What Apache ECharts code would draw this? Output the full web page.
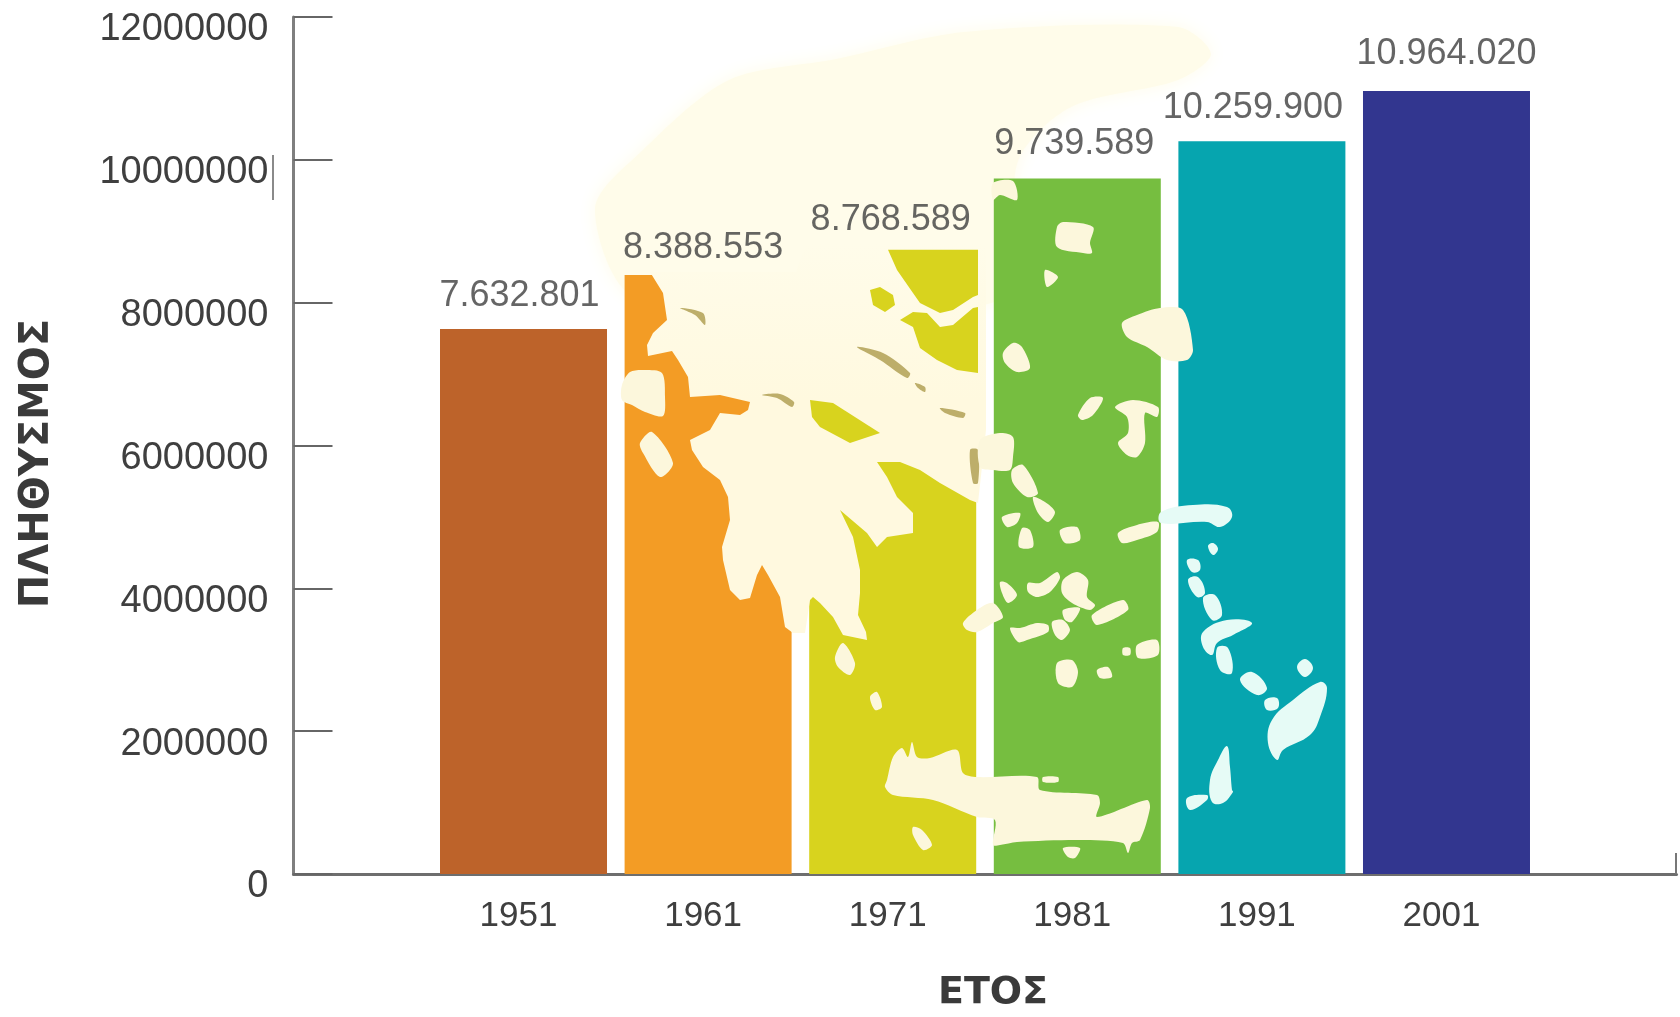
<!DOCTYPE html>
<html>
<head>
<meta charset="utf-8">
<script src="https://cdn.jsdelivr.net/npm/echarts@6/dist/echarts.min.js"></script>
<style>html,body{margin:0;padding:0;background:#fff}#c{width:1680px;height:1017px;filter:blur(0.7px)}</style>
</head>
<body>
<div id="c"></div>
<script>
// ---- chart data ----
const years = [1951, 1961, 1971, 1981, 1991, 2001];
const population = [7632801, 8388553, 8768589, 9739589, 10259900, 10964020];
const valueLabels = ['7.632.801', '8.388.553', '8.768.589', '9.739.589', '10.259.900', '10.964.020'];
const barColors = ['#BD632A', '#F39C25', '#D8D31E', '#76BE40', '#06A5AF', '#32368F'];
const yAxisName = 'ΠΛΗΘΥΣΜΟΣ';
const xAxisName = 'ΕΤΟΣ';

// ---- decorative backdrop: outline of Greece, in page pixels ----
const northLand = [[595,209],[643,150],[729,80],[836,59],[964,32],[1178,27],[1211,54],[1178,80],[1071,107],[1018,161],[1000,300],[640,300]];
const mainland = [[650,272],[796,272],[806,244],[986,244],[986,430],[978,503],[970,500],[940,483],[920,470],[900,462],[877,462],[887,477],[897,497],[913,513],[913,533],[887,537],[877,547],[867,533],[840,510],[853,537],[860,570],[860,593],[858,615],[866,632],[867,640],[843,635],[833,617],[820,603],[813,597],[810,600],[805,633],[793,633],[785,627],[780,597],[768,575],[762,565],[757,575],[750,598],[740,600],[730,590],[723,560],[722,547],[730,520],[728,497],[720,480],[703,467],[692,450],[690,440],[710,430],[720,413],[740,415],[748,410],[750,402],[720,395],[690,397],[688,377],[678,360],[672,351],[648,356],[647,345],[653,333],[667,320],[663,293]];
const seaIn1971 = [
  [[888,249.7],[978,249.7],[978,295],[973,297],[953,310],[940,313],[920,303],[913,293],[897,270]],
  [[870,290],[880,287],[893,295],[895,305],[885,312],[873,305]],
  [[900,320],[913,312],[927,313],[940,327],[953,325],[973,308],[978,307],[978,373],[957,370],[937,360],[920,348],[913,327]],
  [[810,400],[833,403],[880,433],[850,443],[820,427],[812,417]]
];
const inlets = [
  [[680,308],[703,313],[705,325],[695,315]],
  [[762,395],[780,394],[794,402],[792,407],[777,398]],
  [[857,347],[883,353],[910,373],[907,378],[880,360]],
  [[915,383],[925,387],[925,392],[918,388]],
  [[940,408],[965,413],[963,418],[945,413]],
  [[970,450],[978,450],[978,483],[973,483]]
];
const creamIslands = [
  [[993,183],[1013,181],[1017,200],[1000,195],[993,200]],
  [[622,385],[630,372],[645,370],[662,373],[665,397],[663,416],[645,412],[632,405],[622,400]],
  [[640,443],[652,432],[673,463],[660,477],[643,453]],
  [[835,657],[843,643],[855,663],[850,675],[838,667]],
  [[870,697],[877,692],[882,707],[875,710]],
  [[887,780],[893,757],[902,748],[908,757],[912,742],[917,757],[930,758],[957,750],[963,773],[977,777],[1037,777],[1040,790],[1097,795],[1100,803],[1097,817],[1147,800],[1150,808],[1140,840],[1132,843],[1128,853],[1123,843],[1080,840],[1017,842],[1000,845],[993,845],[995,820],[977,817],[933,800],[893,795],[885,787]],
  [[913,827],[922,830],[932,845],[923,850],[913,835]],
  [[1043,777],[1058,777],[1058,782],[1043,782]],
  [[1063,848],[1080,848],[1075,858],[1068,857]],
  [[963,623],[977,610],[993,603],[1003,617],[993,623],[977,632],[967,630]],
  [[1057,227],[1063,222],[1093,227],[1090,243],[1092,253],[1083,253],[1057,247]],
  [[1045,270],[1058,277],[1047,287]],
  [[1122,323],[1137,315],[1160,308],[1183,310],[1193,350],[1187,360],[1167,360],[1147,347],[1127,337]],
  [[1003,353],[1013,343],[1022,347],[1030,368],[1017,372],[1005,363]],
  [[1078,415],[1090,398],[1103,398],[1093,415],[1082,420]],
  [[1115,407],[1133,400],[1158,407],[1157,417],[1145,413],[1145,443],[1137,457],[1127,455],[1118,443],[1128,433],[1127,417]],
  [[980,440],[1000,433],[1013,437],[1013,457],[1010,470],[993,470],[980,467]],
  [[1012,470],[1023,465],[1038,493],[1027,497],[1013,483]],
  [[1033,497],[1045,502],[1055,512],[1048,522],[1038,513]],
  [[1002,517],[1020,513],[1017,523],[1007,527]],
  [[1022,528],[1030,530],[1033,547],[1019,547]],
  [[1060,530],[1077,527],[1080,540],[1065,543]],
  [[1118,533],[1137,525],[1158,522],[1157,532],[1137,540],[1122,543]],
  [[1000,582],[1007,583],[1017,595],[1008,603],[1002,593]],
  [[1028,583],[1040,583],[1057,572],[1060,578],[1050,592],[1037,597],[1028,592]],
  [[1063,580],[1077,572],[1088,580],[1087,597],[1095,605],[1090,610],[1072,603],[1062,593]],
  [[1092,615],[1123,600],[1128,610],[1097,625]],
  [[1063,610],[1080,608],[1072,622],[1065,620]],
  [[1010,628],[1020,628],[1037,623],[1048,625],[1048,632],[1027,640],[1018,642]],
  [[1052,622],[1063,620],[1070,630],[1062,640],[1055,635]],
  [[1137,645],[1157,640],[1158,655],[1138,658]],
  [[1123,648],[1130,648],[1130,655],[1123,655]],
  [[1057,663],[1072,660],[1078,672],[1072,687],[1058,683]],
  [[1097,670],[1108,667],[1112,677],[1100,678]]
];
const paleIslands = [
  [[1161,512],[1193,505],[1227,507],[1232,517],[1220,527],[1207,522],[1161,523]],
  [[1208,546],[1213,543],[1218,549],[1213,555]],
  [[1187,560],[1198,560],[1200,570],[1192,572]],
  [[1188,580],[1198,577],[1205,593],[1197,597]],
  [[1203,598],[1215,595],[1222,615],[1212,620]],
  [[1203,632],[1227,620],[1252,623],[1233,635],[1217,643],[1212,655],[1203,647]],
  [[1217,648],[1228,648],[1232,673],[1220,670]],
  [[1240,680],[1252,672],[1267,688],[1257,695]],
  [[1265,700],[1277,698],[1278,708],[1267,710]],
  [[1272,720],[1293,700],[1320,682],[1327,688],[1320,717],[1310,735],[1283,750],[1277,760],[1268,743]],
  [[1297,667],[1305,659],[1313,668],[1305,677]],
  [[1227,746],[1230,767],[1232,790],[1233,792],[1223,803],[1212,802],[1210,780],[1218,760]],
  [[1187,798],[1207,795],[1207,800],[1190,810]]
];

const NORTH = '#FFFCEA';
const poly = (points, fill, z, smooth) => ({
  type: 'polygon', silent: true, z: z,
  shape: { points: points, smooth: smooth },
  style: { fill: fill }
});
const landFill = new echarts.graphic.LinearGradient(0, 244, 0, 400, [
  { offset: 0, color: NORTH }, { offset: 1, color: '#FFF9DF' }
], true);
const north = poly(northLand, NORTH, 1, 0.3);
north.style.shadowBlur = 18;
north.style.shadowColor = NORTH;

const mapElements = [
  north,
  poly(mainland, landFill, 3, 0)
].concat(
  seaIn1971.map(p => poly(p, barColors[2], 4, 0)),
  inlets.map(p => poly(p, '#BDAE6A', 4, 0.3)),
  creamIslands.map(p => poly(p, '#FCF7DC', 4, 0.3)),
  paleIslands.map(p => poly(p, '#E6FBF6', 4, 0.4)),
  [{ type: 'line', silent: true, z: 5, shape: { x1: 273, y1: 155, x2: 273, y2: 200 },
     style: { stroke: '#8a8a8a', lineWidth: 2 } }]
);

const TEXT = '#3f3f3f';
const FONT = '"Liberation Sans", Arial, sans-serif';
const labelShift = [[-4, -9], [-5, -3], [-2, -4], [-3, -11], [-9, -10], [0, -13]];

const chart = echarts.init(document.getElementById('c'));
chart.setOption({
  animation: false,
  backgroundColor: '#ffffff',
  grid: { left: 293.5, top: 17, width: 1383, height: 864, containLabel: false },
  xAxis: {
    type: 'value',
    min: 1938.54,
    max: 2013.46,
    splitLine: { show: false },
    name: xAxisName,
    nameLocation: 'middle',
    nameGap: 100,
    nameTextStyle: { fontFamily: '"DejaVu Sans"', fontWeight: 'bold', fontSize: 38, color: '#3a3a3a', padding: [0, 0, 0, 16] },
    axisLine: { show: true, onZero: false, lineStyle: { color: '#6e6e6e', width: 3 } },
    axisTick: { show: true, inside: true, length: 21, customValues: [2013.4], lineStyle: { color: '#777', width: 2 } },
    axisLabel: {
      customValues: years,
      formatter: v => String(v),
      margin: 25,
      color: TEXT,
      fontFamily: FONT,
      fontSize: 35,
      padding: [0, 10, 0, 0]
    }
  },
  yAxis: {
    type: 'value',
    min: 0,
    max: 12000000,
    interval: 2000000,
    splitLine: { show: false },
    name: yAxisName,
    nameLocation: 'middle',
    nameGap: 236,
    nameTextStyle: { fontFamily: '"DejaVu Sans"', fontWeight: 'bold', fontSize: 40, color: '#3a3a3a', padding: [0, 36, 0, 0] },
    axisLine: { show: true, lineStyle: { color: '#7f7f7f', width: 3 } },
    axisTick: { show: true, inside: true, length: 39, lineStyle: { color: '#666', width: 2 } },
    axisLabel: {
      formatter: v => String(v),
      margin: 25,
      color: TEXT,
      fontFamily: FONT,
      fontSize: 38,
      verticalAlign: 'top',
      lineHeight: 26
    }
  },
  series: [
    {
      type: 'bar',
      z: 2,
      barWidth: 167,
      silent: true,
      data: years.map((y, i) => ({ value: [y, population[i]], itemStyle: { color: barColors[i] } }))
    },
    {
      type: 'scatter',
      z: 6,
      silent: true,
      symbolSize: 1,
      itemStyle: { color: 'transparent' },
      data: years.map((y, i) => ({
        value: [y, population[i]],
        label: {
          show: true,
          position: 'top',
          distance: 5,
          offset: labelShift[i],
          formatter: valueLabels[i],
          color: TEXT,
          fontFamily: FONT,
          fontSize: 36
        }
      }))
    }
  ],
  graphic: { elements: mapElements }
});
</script>
</body>
</html>
